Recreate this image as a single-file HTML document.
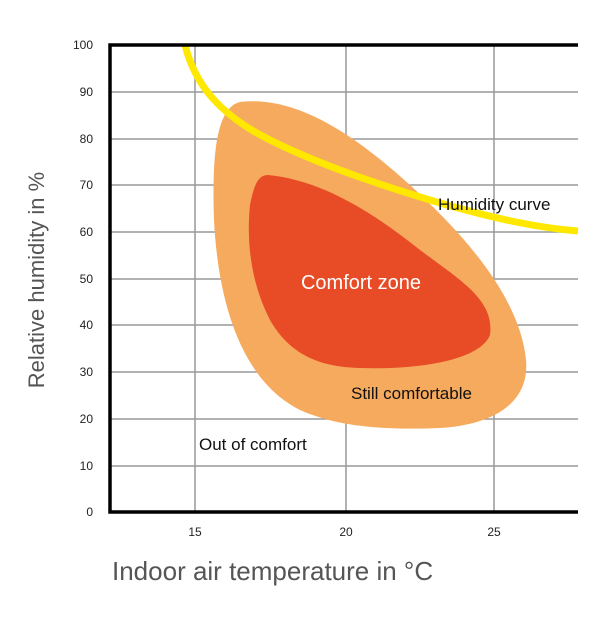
<!DOCTYPE html>
<html><head><meta charset="utf-8"><style>
html,body{margin:0;padding:0;background:#fff;}
svg{display:block;font-family:"Liberation Sans",sans-serif;}
</style></head><body>
<svg width="616" height="621" viewBox="0 0 616 621" xmlns="http://www.w3.org/2000/svg">
<g stroke="#999" stroke-width="1.5">
<line x1="110" y1="92" x2="578" y2="92"/>
<line x1="110" y1="139" x2="578" y2="139"/>
<line x1="110" y1="185" x2="578" y2="185"/>
<line x1="110" y1="232" x2="578" y2="232"/>
<line x1="110" y1="279" x2="578" y2="279"/>
<line x1="110" y1="325" x2="578" y2="325"/>
<line x1="110" y1="372" x2="578" y2="372"/>
<line x1="110" y1="419" x2="578" y2="419"/>
<line x1="110" y1="466" x2="578" y2="466"/>
<line x1="195" y1="45" x2="195" y2="512"/>
<line x1="346" y1="45" x2="346" y2="512"/>
<line x1="494" y1="45" x2="494" y2="512"/>
</g>
<path fill="#F6AA5E" d="M240,102 C300,95 360,140 410,185 C470,240 520,300 526,360 C530,405 490,425 440,428 C390,430 340,428 300,410 C240,380 218,300 214,220 C212,160 215,108 240,102 Z"/>
<path fill="#E84C26" d="M268,175 C320,180 370,210 420,250 C460,280 495,300 490,335 C480,360 420,370 360,368 C320,367 290,355 270,320 C252,285 246,245 250,205 C254,185 258,175 268,175 Z"/>
<path fill="none" stroke="#FFE800" stroke-width="7" d="M185,45 C195,85 220,115 270,140 C320,165 380,185 440,203 C500,220 540,228 578,231"/>
<g stroke="#000" stroke-width="3.5" fill="none">
<polyline points="578,45 110,45 110,512 578,512"/>
</g>
<g font-size="12" fill="#222" text-anchor="end">
<text x="93" y="49">100</text>
<text x="93" y="96">90</text>
<text x="93" y="143">80</text>
<text x="93" y="189">70</text>
<text x="93" y="236">60</text>
<text x="93" y="283">50</text>
<text x="93" y="329">40</text>
<text x="93" y="376">30</text>
<text x="93" y="423">20</text>
<text x="93" y="470">10</text>
<text x="93" y="516">0</text>
</g>
<g font-size="12" fill="#222" text-anchor="middle">
<text x="195" y="536">15</text>
<text x="346" y="536">20</text>
<text x="494" y="536">25</text>
</g>
<text x="112" y="580" font-size="26" fill="#555">Indoor air temperature in °C</text>
<text transform="translate(44,280) rotate(-90)" font-size="22" fill="#555" text-anchor="middle">Relative humidity in %</text>
<text x="361" y="289" font-size="20" fill="#fff" text-anchor="middle">Comfort zone</text>
<text x="438" y="210" font-size="17" fill="#111">Humidity curve</text>
<text x="351" y="399" font-size="17" fill="#111">Still comfortable</text>
<text x="199" y="450" font-size="17" fill="#111">Out of comfort</text>
</svg>
</body></html>
